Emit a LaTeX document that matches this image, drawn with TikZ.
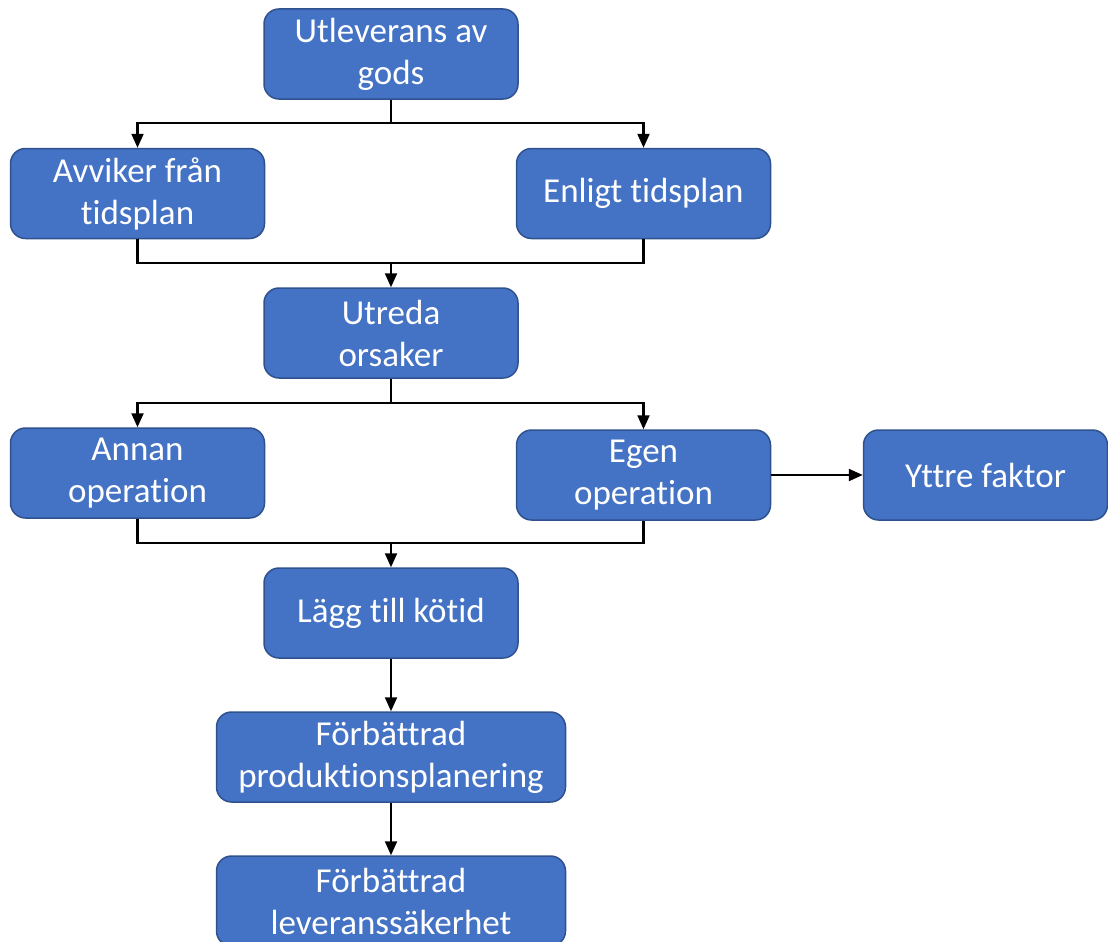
\documentclass[tikz,border=0pt]{standalone}
\usepackage{fontspec}
\setmainfont[Ligatures=NoCommon]{Carlito}
\usetikzlibrary{arrows.meta}
\definecolor{boxfill}{HTML}{4472C4}
\definecolor{boxline}{HTML}{2F528F}
\begin{document}
\begin{tikzpicture}[x=1pt,y=-1pt,
  box/.style={draw=boxline, line width=1.5pt, fill=boxfill, rounded corners=15pt,
    text=white, align=center, inner sep=0pt, minimum height=90pt,
    font=\fontsize{35}{42}\selectfont},
  wide/.style={box, minimum width=254pt},
  wider/.style={box, minimum width=349pt},
  conn/.style={draw=black, line width=2.2pt},
  arr/.style={conn, -{Triangle[length=14pt,width=12pt]}}]
\useasboundingbox (0,0) rectangle (1108,942);
\node[wide] (top) at (391,54) {Utleverans av\\gods};
\node[wide] (avv) at (137.5,193.5) {Avviker från\\tidsplan};
\node[wide] (enl) at (643.5,193.5) {Enligt tidsplan};
\node[wide] (utr) at (391,333) {Utreda\\orsaker};
\node[wide] (ann) at (137.5,473) {Annan\\operation};
\node[wide] (egen) at (643.5,475) {Egen\\operation};
\node[box, minimum width=244pt] (ytt) at (985.5,475) {Yttre faktor};
\node[wide] (lagg) at (391,613) {Lägg till kötid};
\node[wider] (forb1) at (391,757) {Förbättrad\\produktionsplanering};
\node[wider] (forb2) at (391,901) {Förbättrad\\leveranssäkerhet};
\coordinate (j1) at (391,123);
\coordinate (j2) at (391,263);
\coordinate (j3) at (391,403);
\coordinate (j4) at (391,543);
\draw[conn] (top.south) -- (j1);
\draw[arr] (j1) -| (avv.north);
\draw[arr] (j1) -| (enl.north);
\draw[conn] (avv.south) |- (j2);
\draw[conn] (enl.south) |- (j2);
\draw[arr] (j2) -- (utr.north);
\draw[conn] (utr.south) -- (j3);
\draw[arr] (j3) -| (ann.north);
\draw[arr] (j3) -| (egen.north);
\draw[arr] (egen.east) -- (ytt.west);
\draw[conn] (ann.south) |- (j4);
\draw[conn] (egen.south) |- (j4);
\draw[arr] (j4) -- (lagg.north);
\draw[arr] (lagg.south) -- (forb1.north);
\draw[arr] (forb1.south) -- (forb2.north);
\end{tikzpicture}
\end{document}
